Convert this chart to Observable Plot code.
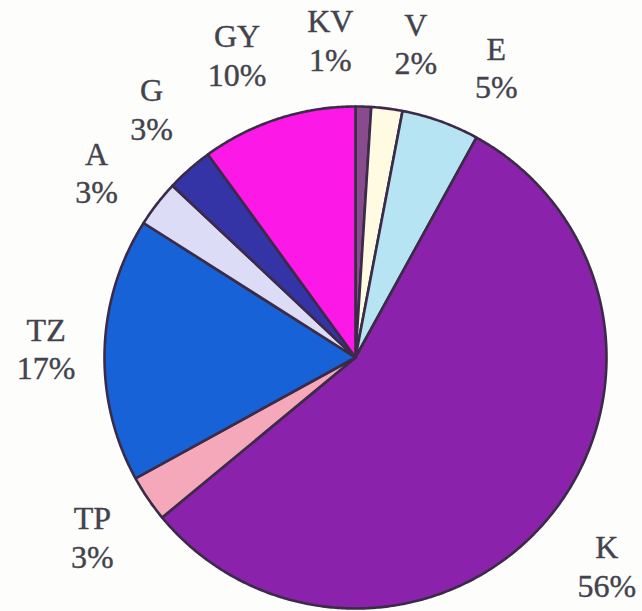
<!DOCTYPE html>
<html>
<head>
<meta charset="utf-8">
<script src="https://cdn.jsdelivr.net/npm/d3@7"></script>
<script src="https://cdn.jsdelivr.net/npm/@observablehq/plot@0.6"></script>
<style>
  html, body { margin: 0; padding: 0; background: #fdfdfb; }
</style>
</head>
<body>
<div id="chart"></div>
<script>
// Data (clockwise from 12 o'clock)
const categories = ["KV", "V", "E", "K", "TP", "TZ", "A", "G", "GY"];
const percents   = [1, 2, 5, 56, 3, 17, 3, 3, 10];
const colors     = ["#8a4a8e", "#fffbe3", "#b6e4f2", "#8a22ac", "#f5a8ba", "#1662d6", "#dcdcf6", "#3434a6", "#fc18e6"];

const W = 642, H = 611;
const cx = 355, cy = 357, R = 251;
const FONT = "'Liberation Serif', 'Times New Roman', serif";
const FS = 32, LH = 1.2;

const data = categories.map((c, i) => ({key: c, value: percents[i]}));
const arcs = d3.pie().sort(null).value(d => d.value)(data);

// Polygon points for each slice (angles clockwise from top, radians)
const polyPts = [];
arcs.forEach(a => {
  const k = a.data.key;
  polyPts.push({key: k, x: 0, y: 0});
  const n = Math.max(2, Math.ceil((a.endAngle - a.startAngle) / (Math.PI / 360)));
  for (let i = 0; i <= n; i++) {
    const t = a.startAngle + (a.endAngle - a.startAngle) * i / n;
    polyPts.push({key: k, x: Math.sin(t), y: Math.cos(t)});
  }
  polyPts.push({key: k, x: 0, y: 0});
});

// Label box sizes measured from the text
const ctx = document.createElement("canvas").getContext("2d");
ctx.font = `${FS}px ${FONT}`;
const texts = arcs.map(a => [a.data.key, a.data.value + "%"]);
const halfW = texts.map(t => Math.max(...t.map(s => ctx.measureText(s).width)) / 2);
const halfH = FS * LH; // two lines

// Label angles: mid-angles relaxed so neighbouring labels don't collide
const mids = arcs.map(a => (a.startAngle + a.endAngle) / 2 * 180 / Math.PI);
const labelDist = 315, pad = 40;
for (let it = 0; it < 400; it++) {
  for (let i = 0; i < mids.length; i++) {
    const j = (i + 1) % mids.length;
    const need = (halfW[i] + halfW[j] + pad) / labelDist * 180 / Math.PI;
    const diff = ((mids[j] - mids[i]) % 360 + 360) % 360;
    if (diff < need) {
      const p = (need - diff) / 2;
      mids[i] -= p; mids[j] += p;
    }
  }
}
const gap = 28;
const labels = arcs.map((a, i) => {
  const t = mids[i] * Math.PI / 180;
  const d = R + gap + Math.abs(halfW[i] * Math.sin(t)) + Math.abs(halfH * Math.cos(t));
  const r = d / R;
  return {key: a.data.key, x: r * Math.sin(t), y: r * Math.cos(t),
          text: texts[i].join("\n")};
});

const chart = Plot.plot({
  width: W,
  height: H,
  margin: 0,
  style: {background: "#fdfdfb", overflow: "visible"},
  x: {domain: [-1, 1], range: [cx - R, cx + R], axis: null},
  y: {domain: [-1, 1], range: [cy + R, cy - R], axis: null},
  color: {domain: categories, range: colors},
  marks: [
    Plot.line(polyPts, {x: "x", y: "y", z: "key", fill: "key", stroke: "#3b2b48", strokeWidth: 2.6, strokeLinejoin: "round", curve: "linear"}),
    Plot.text(labels, {x: "x", y: "y", text: "text", fontSize: FS, fontFamily: FONT, lineHeight: LH, fill: "#43434d", stroke: "#43434d", strokeWidth: 0.4, lineAnchor: "middle"})
  ]
});
document.getElementById("chart").appendChild(chart);
</script>
</body>
</html>
